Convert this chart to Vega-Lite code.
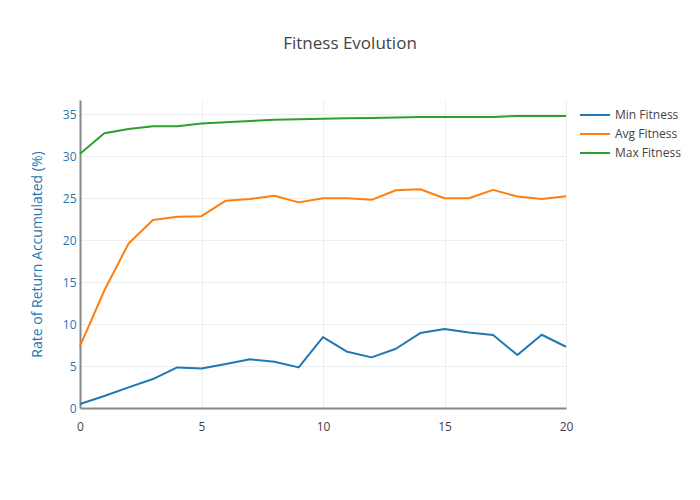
{
  "$schema": "https://vega.github.io/schema/vega-lite/v6.json",
  "width": 486,
  "height": 308,
  "autosize": "none",
  "padding": {"left": 80, "top": 100, "right": 134, "bottom": 92},
  "background": "white",
  "title": {
    "text": "Fitness Evolution",
    "anchor": "middle",
    "frame": "group",
    "dx": 27,
    "offset": 47,
    "font": "Open Sans",
    "fontSize": 17,
    "fontWeight": "normal",
    "color": "#444"
  },
  "config": {
    "view": {"stroke": null},
    "font": "Open Sans"
  },
  "data": {
    "values": [
      {"gen": 0, "series": "Min Fitness", "value": 0.48},
      {"gen": 1, "series": "Min Fitness", "value": 1.43},
      {"gen": 2, "series": "Min Fitness", "value": 2.46},
      {"gen": 3, "series": "Min Fitness", "value": 3.45},
      {"gen": 4, "series": "Min Fitness", "value": 4.84},
      {"gen": 5, "series": "Min Fitness", "value": 4.7},
      {"gen": 6, "series": "Min Fitness", "value": 5.24},
      {"gen": 7, "series": "Min Fitness", "value": 5.8},
      {"gen": 8, "series": "Min Fitness", "value": 5.5},
      {"gen": 9, "series": "Min Fitness", "value": 4.84},
      {"gen": 10, "series": "Min Fitness", "value": 8.45},
      {"gen": 11, "series": "Min Fitness", "value": 6.7},
      {"gen": 12, "series": "Min Fitness", "value": 6.03},
      {"gen": 13, "series": "Min Fitness", "value": 7.06},
      {"gen": 14, "series": "Min Fitness", "value": 8.93},
      {"gen": 15, "series": "Min Fitness", "value": 9.4},
      {"gen": 16, "series": "Min Fitness", "value": 9.0},
      {"gen": 17, "series": "Min Fitness", "value": 8.69},
      {"gen": 18, "series": "Min Fitness", "value": 6.31},
      {"gen": 19, "series": "Min Fitness", "value": 8.73},
      {"gen": 20, "series": "Min Fitness", "value": 7.3},
      {"gen": 0, "series": "Avg Fitness", "value": 7.38},
      {"gen": 1, "series": "Avg Fitness", "value": 14.0},
      {"gen": 2, "series": "Avg Fitness", "value": 19.6},
      {"gen": 3, "series": "Avg Fitness", "value": 22.4},
      {"gen": 4, "series": "Avg Fitness", "value": 22.8},
      {"gen": 5, "series": "Avg Fitness", "value": 22.86},
      {"gen": 6, "series": "Avg Fitness", "value": 24.7},
      {"gen": 7, "series": "Avg Fitness", "value": 24.9},
      {"gen": 8, "series": "Avg Fitness", "value": 25.3},
      {"gen": 9, "series": "Avg Fitness", "value": 24.5},
      {"gen": 10, "series": "Avg Fitness", "value": 25.0},
      {"gen": 11, "series": "Avg Fitness", "value": 25.0},
      {"gen": 12, "series": "Avg Fitness", "value": 24.8},
      {"gen": 13, "series": "Avg Fitness", "value": 25.95},
      {"gen": 14, "series": "Avg Fitness", "value": 26.07},
      {"gen": 15, "series": "Avg Fitness", "value": 25.0},
      {"gen": 16, "series": "Avg Fitness", "value": 25.0},
      {"gen": 17, "series": "Avg Fitness", "value": 25.99},
      {"gen": 18, "series": "Avg Fitness", "value": 25.2},
      {"gen": 19, "series": "Avg Fitness", "value": 24.9},
      {"gen": 20, "series": "Avg Fitness", "value": 25.24},
      {"gen": 0, "series": "Max Fitness", "value": 30.3},
      {"gen": 1, "series": "Max Fitness", "value": 32.74},
      {"gen": 2, "series": "Max Fitness", "value": 33.25},
      {"gen": 3, "series": "Max Fitness", "value": 33.57},
      {"gen": 4, "series": "Max Fitness", "value": 33.57},
      {"gen": 5, "series": "Max Fitness", "value": 33.9},
      {"gen": 6, "series": "Max Fitness", "value": 34.05},
      {"gen": 7, "series": "Max Fitness", "value": 34.2},
      {"gen": 8, "series": "Max Fitness", "value": 34.36},
      {"gen": 9, "series": "Max Fitness", "value": 34.4},
      {"gen": 10, "series": "Max Fitness", "value": 34.48},
      {"gen": 11, "series": "Max Fitness", "value": 34.52},
      {"gen": 12, "series": "Max Fitness", "value": 34.56},
      {"gen": 13, "series": "Max Fitness", "value": 34.6},
      {"gen": 14, "series": "Max Fitness", "value": 34.68},
      {"gen": 15, "series": "Max Fitness", "value": 34.68},
      {"gen": 16, "series": "Max Fitness", "value": 34.68},
      {"gen": 17, "series": "Max Fitness", "value": 34.68},
      {"gen": 18, "series": "Max Fitness", "value": 34.8},
      {"gen": 19, "series": "Max Fitness", "value": 34.8},
      {"gen": 20, "series": "Max Fitness", "value": 34.8}
    ]
  },
  "mark": {"type": "line", "strokeWidth": 2, "strokeJoin": "round"},
  "encoding": {
    "x": {
      "field": "gen",
      "type": "quantitative",
      "scale": {"domain": [0, 20], "nice": false, "zero": false},
      "axis": {
        "title": null,
        "values": [0, 5, 10, 15, 20],
        "ticks": false,
        "domainColor": "#888",
        "domainWidth": 2,
        "gridColor": "#eee",
        "gridWidth": 1,
        "labelFont": "Open Sans",
        "labelFontSize": 12,
        "labelColor": "#444",
        "labelPadding": 13,
        "labelFlush": false
      }
    },
    "y": {
      "field": "value",
      "type": "quantitative",
      "scale": {"domain": [0, 36.7], "nice": false},
      "axis": {
        "title": "Rate of Return Accumulated (%)",
        "titleFont": "Open Sans",
        "titleFontSize": 14,
        "titleFontWeight": "normal",
        "titleColor": "#1f77b4",
        "titlePadding": 18,
        "values": [0, 5, 10, 15, 20, 25, 30, 35],
        "ticks": false,
        "domainColor": "#888",
        "domainWidth": 2,
        "gridColor": "#eee",
        "gridWidth": 1,
        "labelFont": "Open Sans",
        "labelFontSize": 12,
        "labelColor": "#1f77b4",
        "labelPadding": 4
      }
    },
    "color": {
      "field": "series",
      "type": "nominal",
      "sort": ["Min Fitness", "Avg Fitness", "Max Fitness"],
      "scale": {
        "domain": ["Min Fitness", "Avg Fitness", "Max Fitness"],
        "range": ["#1f77b4", "#ff7f0e", "#2ca02c"]
      },
      "legend": {
        "title": null,
        "orient": "none",
        "legendX": 504,
        "legendY": 4,
        "symbolType": "M-1.5,0H1.5",
        "symbolSize": 400,
        "symbolStrokeWidth": 2,
        "labelFont": "Open Sans",
        "labelFontSize": 12,
        "labelColor": "#444",
        "labelOffset": 9,
        "rowPadding": 2,
        "labelLimit": 200
      }
    }
  }
}
